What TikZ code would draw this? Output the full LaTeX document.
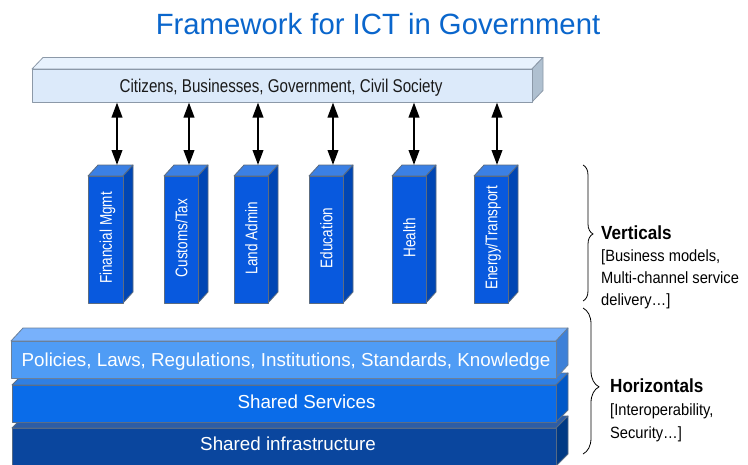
\documentclass[tikz,border=0pt]{standalone}
\usepackage{fontspec}
\setmainfont{Liberation Sans}
\newfontfamily\pilfont[FakeStretch=0.8]{Liberation Sans}
\newfontfamily\barfont[FakeStretch=0.82]{Liberation Sans}
\newfontfamily\sidefont[FakeStretch=0.9]{Liberation Sans}
\usetikzlibrary{arrows.meta,decorations.pathreplacing}
\definecolor{titleblue}{HTML}{0A66CC}
\definecolor{barfront}{HTML}{DCEAFA}
\definecolor{bartop}{HTML}{E8F2FD}
\definecolor{barside}{HTML}{AFC0D0}
\definecolor{baredge}{HTML}{8C99A8}
\definecolor{pilfront}{HTML}{0859DE}
\definecolor{piltop}{HTML}{3B80E4}
\definecolor{pilside}{HTML}{0046B4}
\definecolor{piledge}{HTML}{5C6C80}
\definecolor{polfront}{HTML}{4F9CF5}
\definecolor{poltop}{HTML}{78B1FB}
\definecolor{polside}{HTML}{3D80D8}
\definecolor{poledge}{HTML}{6B8099}
\definecolor{ssfront}{HTML}{0A6CE9}
\definecolor{sstop}{HTML}{307FE2}
\definecolor{ssside}{HTML}{0058C8}
\definecolor{ssedge}{HTML}{5A6E88}
\definecolor{sifront}{HTML}{0A469E}
\definecolor{sitop}{HTML}{2C5DA6}
\definecolor{siside}{HTML}{003984}
\definecolor{siedge}{HTML}{566A84}
\definecolor{bartext}{HTML}{1A1A1A}
% #1 x1, #2 y1 (top of front), #3 x2, #4 y2 (bottom of front), #5 dx, #6 dy, #7 colour prefix
\newcommand\cuboid[7]{%
  \filldraw[fill=#7top,draw=#7edge,faceline] (#1,#2) -- (#1+#5,#2-#6) -- (#3+#5,#2-#6) -- (#3,#2) -- cycle;
  \filldraw[fill=#7side,draw=#7edge,faceline] (#3,#2) -- (#3+#5,#2-#6) -- (#3+#5,#4-#6) -- (#3,#4) -- cycle;
  \filldraw[fill=#7front,draw=#7edge,faceline] (#1,#2) rectangle (#3,#4);
}
\tikzset{
  faceline/.style={line width=0.8pt,line join=round},
  biarrow/.style={line width=2.2pt,{Triangle[length=15pt,width=10.5pt]}-{Triangle[length=15pt,width=10.5pt]}},
  pillabel/.style={rotate=90,anchor=base,inner sep=0pt,text=white,font=\pilfont\fontsize{16.9}{20}\selectfont},
  laylabel/.style={anchor=base,inner sep=0pt,text=white,font=\fontsize{18.8}{22}\selectfont},
  sidehead/.style={anchor=base west,inner sep=0pt,font=\sidefont\fontsize{19}{22}\selectfont\bfseries},
  sidetext/.style={anchor=base west,inner sep=0pt,font=\sidefont\fontsize{16.3}{19}\selectfont},
  bracebar/.style={line width=0.8pt,decorate},
}
\begin{document}
\begin{tikzpicture}[x=1pt,y=-1pt]
\useasboundingbox (0,0) rectangle (748,464);
\clip (0,0) rectangle (748,464);
\fill[white] (0,0) rectangle (748,464);

% title
\node[anchor=base,inner sep=0pt,text=titleblue,font=\fontsize{29.3}{34}\selectfont] (title) at (378,34) {Framework for ICT in Government};

% top bar
\cuboid{32}{69}{532}{102}{11}{11.5}{bar}
\node[anchor=base,inner sep=0pt,text=bartext,font=\barfont\fontsize{18.5}{22}\selectfont] (stake) at (281,92.1) {Citizens, Businesses, Government, Civil Society};

% pillars
\cuboid{88}{176}{123}{303}{10}{11}{pil}
\cuboid{164}{176}{198}{303}{10}{11}{pil}
\cuboid{234}{176}{268}{303}{10}{11}{pil}
\cuboid{309}{176}{343}{303}{10}{11}{pil}
\cuboid{392}{176}{426}{303}{10}{11}{pil}
\cuboid{474}{176}{508}{303}{10}{11}{pil}
\node[pillabel] (v1) at (111.8,238) {Financial Mgmt};
\node[pillabel] (v2) at (187.3,238) {Customs/Tax};
\node[pillabel] (v3) at (257.3,238) {Land Admin};
\node[pillabel] (v4) at (332.3,238) {Education};
\node[pillabel] (v5) at (415.3,238) {Health};
\node[pillabel] (v6) at (497.3,238) {Energy/Transport};

% arrows
\foreach \i/\x in {1/117,2/189,3/258,4/333,5/414,6/497}{
  \coordinate (u\i) at (\x,102.5);
  \coordinate (d\i) at (\x,165);
  \draw[biarrow] (u\i) -- (d\i);
}

% horizontal layers
\cuboid{12}{428}{556}{466}{12}{12}{si}
\cuboid{12}{385}{556}{422}{12}{12}{ss}
\cuboid{11}{341}{556}{378}{12}{13}{pol}
\node[laylabel] (l1) at (286,366) {Policies, Laws, Regulations, Institutions, Standards, Knowledge};
\node[laylabel] (l2) at (306.5,408) {Shared Services};
\node[laylabel] (l3) at (288,450.7) {Shared infrastructure};

% braces
\coordinate (b1s) at (583,165);
\coordinate (b1e) at (583,301);
\draw[bracebar,decoration={brace,amplitude=10pt,aspect=0.507}] (b1s) -- (b1e);
\coordinate (b2s) at (583,308);
\coordinate (b2e) at (583,454);
\draw[bracebar,decoration={brace,amplitude=16pt,aspect=0.54}] (b2s) -- (b2e);

\node[sidehead] (vh) at (601,239.7) {Verticals};
\node[sidetext] (vt1) at (601,261.8) {[Business models,};
\node[sidetext] (vt2) at (601,283.8) {Multi-channel service};
\node[sidetext] (vt3) at (601,305.8) {delivery…]};
\node[sidehead] (hh) at (610,392.7) {Horizontals};
\node[sidetext] (ht1) at (610,415.8) {[Interoperability,};
\node[sidetext] (ht2) at (610,438.8) {Security…]};
\end{tikzpicture}
\end{document}
